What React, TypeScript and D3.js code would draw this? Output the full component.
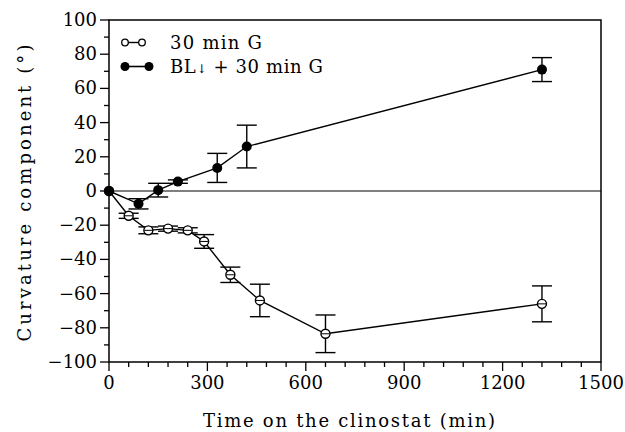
import React from "react";
import * as d3 from "d3";

const openTimes = [0, 60, 120, 180, 240, 290, 370, 460, 660, 1320];
const openValues = [0, -14.5, -23, -22, -23, -29.5, -49, -64, -83.5, -66];
const openErrors = [0, 1.5, 2, 1.5, 1.5, 4, 4.5, 9.5, 11, 10.5];

const filledTimes = [0, 90, 150, 210, 330, 420, 1320];
const filledValues = [0, -7.5, 0.5, 5.5, 13.5, 26, 71];
const filledErrors = [0, 3, 4, 1, 8.5, 12.5, 7];

const xTicks = [0, 300, 600, 900, 1200, 1500];
const yTicks = [-100, -80, -60, -40, -20, 0, 20, 40, 60, 80, 100];
const xMinor = d3.range(0, 1501, 60);
const yMinor = d3.range(-100, 101, 10);

const FONT = "'DejaVu Serif', serif";

export default function App() {
  const x = d3.scaleLinear().domain([0, 1500]).range([109, 601]);
  const y = d3.scaleLinear().domain([-100, 100]).range([362, 20]);
  const line = d3
    .line<[number, number]>()
    .x((d) => x(d[0]))
    .y((d) => y(d[1]));
  const openPts: [number, number][] = openTimes.map((t, i) => [t, openValues[i]]);
  const filledPts: [number, number][] = filledTimes.map((t, i) => [t, filledValues[i]]);
  const cap = 10;
  const errBars = (times: number[], vals: number[], errs: number[], key: string) =>
    times.map((t, i) =>
      errs[i] > 0 ? (
        <g key={key + i} stroke="#000" strokeWidth={1.4}>
          <line x1={x(t)} x2={x(t)} y1={y(vals[i] - errs[i])} y2={y(vals[i] + errs[i])} />
          <line x1={x(t) - cap} x2={x(t) + cap} y1={y(vals[i] + errs[i])} y2={y(vals[i] + errs[i])} />
          <line x1={x(t) - cap} x2={x(t) + cap} y1={y(vals[i] - errs[i])} y2={y(vals[i] - errs[i])} />
        </g>
      ) : null
    );

  return (
    <svg width={625} height={432} style={{ position: "absolute", left: 0, top: 0 }}>
      <rect x={0} y={0} width={625} height={432} fill="#fff" />
      {/* frame */}
      <rect x={x(0)} y={y(100)} width={x(1500) - x(0)} height={y(-100) - y(100)} fill="none" stroke="#000" strokeWidth={1.5} />
      {/* zero line */}
      <line x1={x(0)} x2={x(1500)} y1={y(0)} y2={y(0)} stroke="#000" strokeWidth={1.2} />
      {/* y ticks */}
      {yMinor.map((v) => (
        <line key={"ym" + v} x1={x(0) - (v % 20 === 0 ? 9 : 5)} x2={x(0)} y1={y(v)} y2={y(v)} stroke="#000" strokeWidth={1.3} />
      ))}
      {yTicks.map((v) => (
        <text key={"yt" + v} x={97} y={y(v) + 6} textAnchor="end" fontFamily={FONT} fontSize={18} fill="#000">
          {v < 0 ? "\u2212" + Math.abs(v) : v}
        </text>
      ))}
      {/* x ticks */}
      {xMinor.map((v) => (
        <line key={"xm" + v} x1={x(v)} x2={x(v)} y1={y(-100)} y2={y(-100) + (v % 300 === 0 ? 9 : 5)} stroke="#000" strokeWidth={1.3} />
      ))}
      {xTicks.map((v) => (
        <text key={"xt" + v} x={x(v)} y={389} textAnchor="middle" fontFamily={FONT} fontSize={18} fill="#000">
          {v}
        </text>
      ))}
      {/* axis labels */}
      <text x={349} y={427} textAnchor="middle" fontFamily={FONT} fontSize={18} fill="#000" textLength={292} lengthAdjust="spacing">
        Time on the clinostat (min)
      </text>
      <text transform="translate(31,193) rotate(-90)" textAnchor="middle" fontFamily={FONT} fontSize={18} fill="#000" textLength={297} lengthAdjust="spacing">
        Curvature component (°)
      </text>
      {/* series lines */}
      <path d={line(openPts) || ""} fill="none" stroke="#000" strokeWidth={1.4} />
      <path d={line(filledPts) || ""} fill="none" stroke="#000" strokeWidth={1.4} />
      {errBars(openTimes, openValues, openErrors, "oe")}
      {errBars(filledTimes, filledValues, filledErrors, "fe")}
      {openPts.map((p, i) => (
        <g key={"op" + i}>
          <circle cx={x(p[0])} cy={y(p[1])} r={4.5} fill="#fff" stroke="#000" strokeWidth={1.4} />
          <line x1={x(p[0]) - 4} x2={x(p[0]) + 4} y1={y(p[1])} y2={y(p[1])} stroke="#000" strokeWidth={1} />
        </g>
      ))}
      {filledPts.map((p, i) => (
        <circle key={"fp" + i} cx={x(p[0])} cy={y(p[1])} r={5} fill="#000" />
      ))}
      {/* legend */}
      <line x1={125} x2={142} y1={42.5} y2={42.5} stroke="#000" strokeWidth={1.4} />
      <circle cx={125} cy={42.5} r={3.3} fill="#fff" stroke="#000" strokeWidth={1.3} />
      <circle cx={142} cy={42.5} r={3.3} fill="#fff" stroke="#000" strokeWidth={1.3} />
      <text x={170} y={48.5} fontFamily={FONT} fontSize={18} fill="#000" textLength={92} lengthAdjust="spacing">
        30 min G
      </text>
      <line x1={125} x2={149} y1={66.5} y2={66.5} stroke="#000" strokeWidth={1.6} />
      <circle cx={125} cy={66.5} r={4.5} fill="#000" />
      <circle cx={149} cy={66.5} r={4.5} fill="#000" />
      <text x={170} y={72.5} fontFamily={FONT} fontSize={18} fill="#000" textLength={153} lengthAdjust="spacing">
        BL<tspan fontSize={12}>↓</tspan> + 30 min G
      </text>
    </svg>
  );
}
